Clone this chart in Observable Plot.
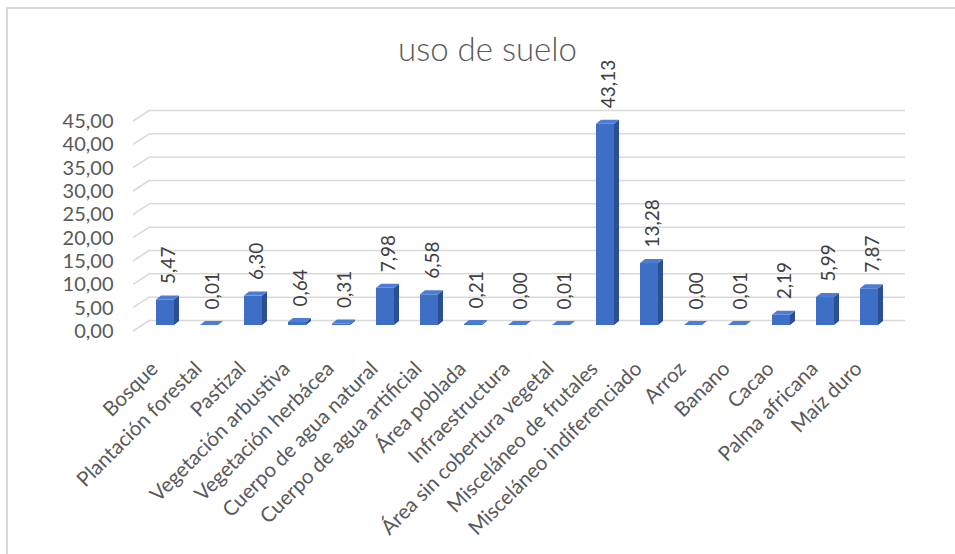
<!DOCTYPE html>
<html><head><meta charset="utf-8">
<script src="https://cdn.jsdelivr.net/npm/d3@7"></script>
<script src="https://cdn.jsdelivr.net/npm/@observablehq/plot@0.6"></script>
<style>
body{margin:0;background:#fff;}
#wrap{position:relative;width:955px;height:554px;overflow:hidden;background:#fff;}
#frame{position:absolute;left:6px;top:7px;width:1000px;height:700px;border-left:2px solid #d9d9d9;border-top:2px solid #d9d9d9;}
#title{position:absolute;left:0;width:975px;top:28px;text-align:center;font:300 33px Lato, sans-serif;color:#595959;}
#chart{position:absolute;left:0;top:0;}
</style></head><body>
<div id="wrap"><div id="frame"></div><div id="title">uso de suelo</div><div id="chart"></div></div>
<script>
const categories = ["Bosque","Plantación forestal","Pastizal","Vegetación arbustiva","Vegetación herbácea","Cuerpo de agua natural","Cuerpo de agua artificial","Área poblada","Infraestructura","Área sin cobertura vegetal","Misceláneo de frutales","Misceláneo indiferenciado","Arroz","Banano","Cacao","Palma africana","Maíz duro"];
const values = [5.47,0.01,6.30,0.64,0.31,7.98,6.58,0.21,0.00,0.01,43.13,13.28,0.00,0.01,2.19,5.99,7.87];
const yTicks = [0,5,10,15,20,25,30,35,40,45];

const data = categories.map((c, i) => ({cat: c, value: values[i]}));
const fmt = v => v.toFixed(2).replace(".", ",");

const W = 955, H = 554;
const plot = Plot.plot({
  width: W, height: H,
  marginLeft: 139, marginRight: 61, marginTop: 115, marginBottom: 229,
  x: {domain: categories, paddingInner: 0.6, paddingOuter: 0.3, axis: null},
  y: {domain: [0, 45], axis: null},
  marks: [
    Plot.ruleY(yTicks, {y: d => d, stroke: "#d9d9d9", strokeWidth: 1.5, dx: 11, dy: -5}),
    Plot.barY(data, {x: "cat", y: "value", fill: "#3f6fc5"}),
    Plot.text(data, {x: "cat", y: "value", text: d => fmt(d.value), rotate: -90, textAnchor: "start", dx: 3, dy: -16, fontSize: 19, fontFamily: "Lato", fill: "#404040"}),
    Plot.text(data, {x: "cat", y: () => 0, text: "cat", rotate: -45, textAnchor: "end", lineAnchor: "middle", dx: -11, dy: 40, fontSize: 20.5, fontFamily: "Lato", fill: "#595959"}),
    Plot.text(yTicks, {y: d => d, text: d => fmt(d), frameAnchor: "left", textAnchor: "end", dx: -26, dy: 6, fontSize: 20, fontFamily: "Lato", fill: "#595959"})
  ]
});

// 3D faces and gridline stubs drawn with the plot's own scales
const xs = plot.scale("x"), ys = plot.scale("y");
const bw = xs.bandwidth, ddx = 5, ddy = -4;
const svg = d3.select(plot);
const g = svg.append("g");
data.forEach(d => {
  const xl = xs.apply(d.cat), xr = xl + bw;
  const yb = ys.apply(0), yt = ys.apply(d.value);
  g.append("polygon")
    .attr("points", [[xr, yb], [xr + ddx, yb + ddy], [xr + ddx, yt + ddy], [xr, yt]].join(" "))
    .attr("fill", "#2a4f94");
  g.append("polygon")
    .attr("points", [[xl, yt], [xl + ddx, yt + ddy], [xr + ddx, yt + ddy], [xr, yt]].join(" "))
    .attr("fill", "#4b7dd6");
});
const x0 = xs.range[0];
const gs = svg.insert("g", ":first-child");
yTicks.forEach(v => {
  const y = ys.apply(v);
  gs.append("line")
    .attr("x1", x0 - 6).attr("y1", y + 6)
    .attr("x2", x0 + 11).attr("y2", y - 5)
    .attr("stroke", "#d9d9d9").attr("stroke-width", 1.5);
});

document.getElementById("chart").appendChild(plot);
</script>
</body></html>
